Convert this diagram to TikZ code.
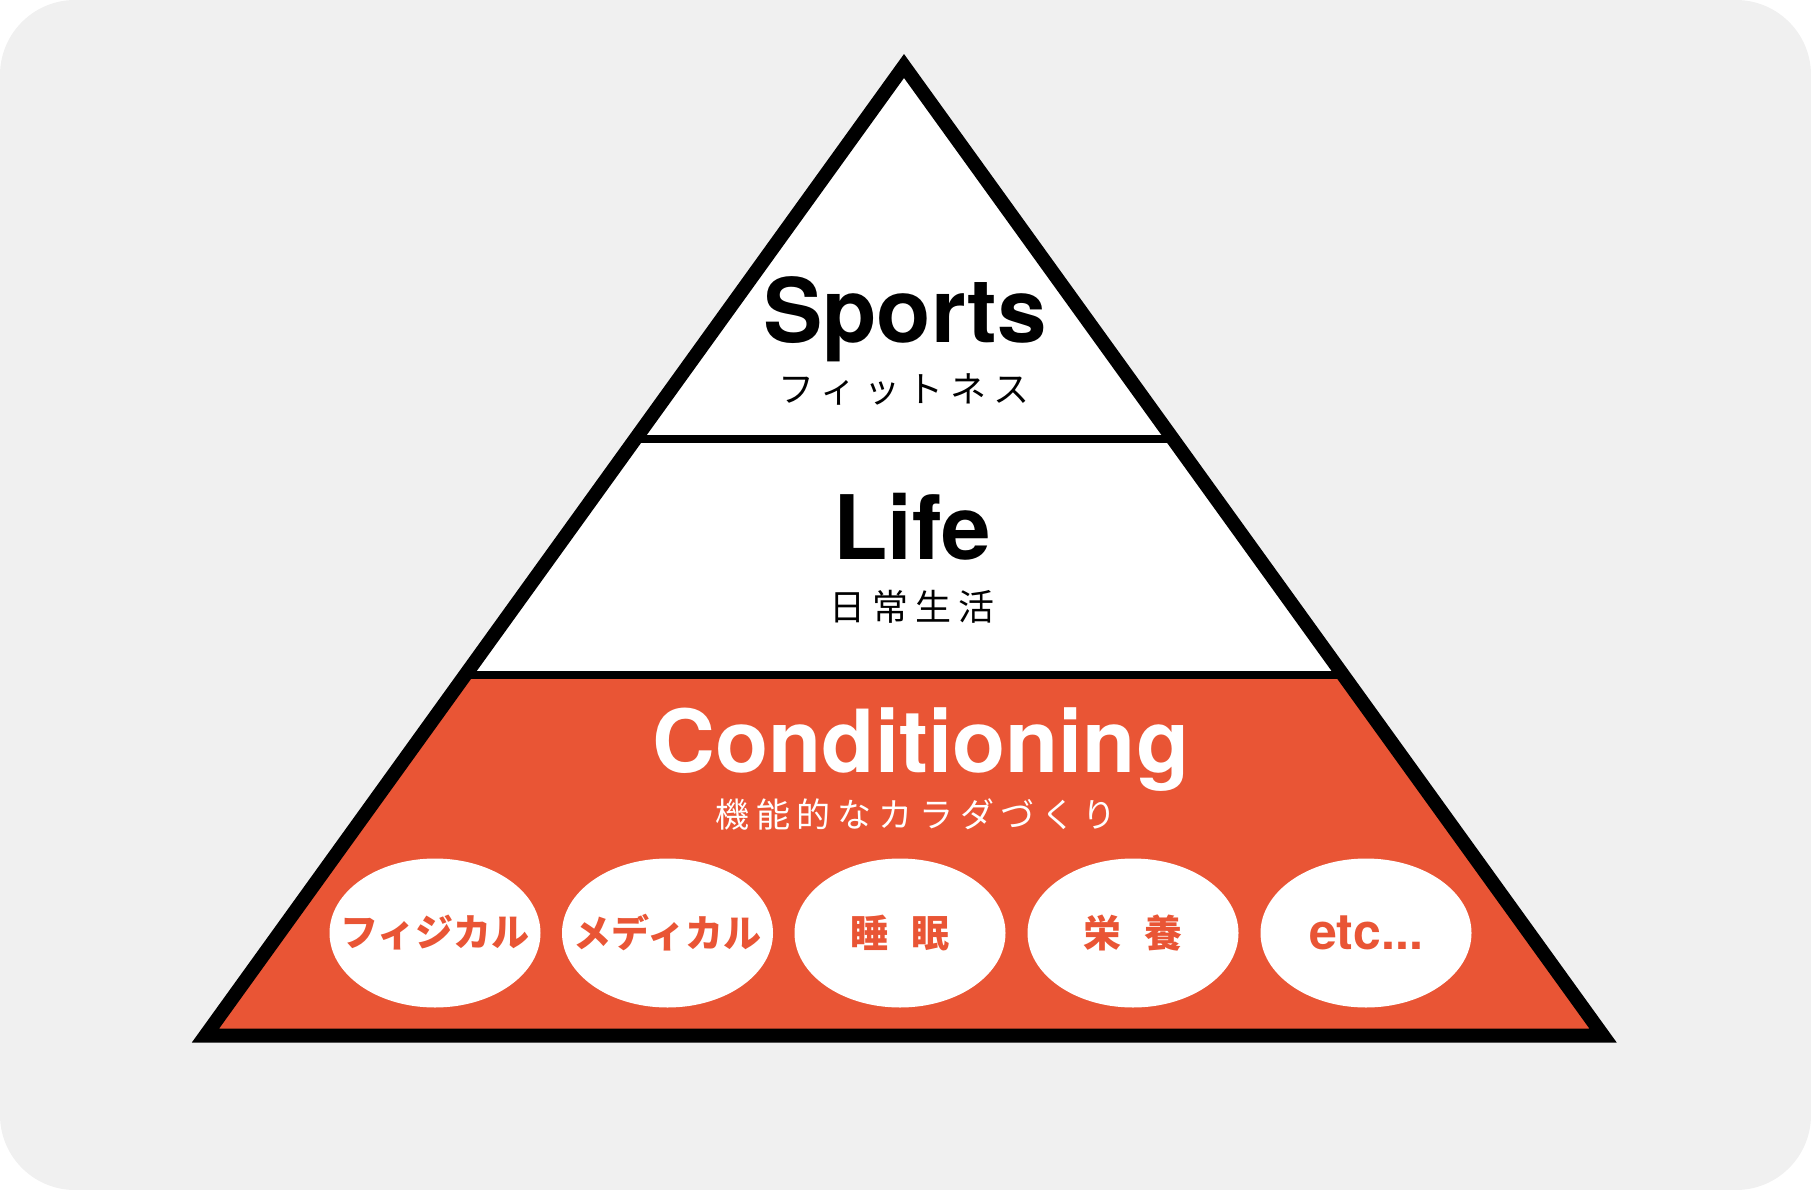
\documentclass[tikz,border=0pt]{standalone}
\usepackage{fontspec}
\setmainfont{TeX Gyre Heros}
\newfontfamily\jpfont{Noto Sans CJK JP}
\newfontfamily\jpspaced[LetterSpace=20]{Noto Sans CJK JP}
\usetikzlibrary{shapes.geometric,calc}
\definecolor{pyrorange}{HTML}{E95535}
\definecolor{bggray}{HTML}{F0F0F0}

\begin{document}
\begin{tikzpicture}[x=1pt,y=-1pt,
  title/.style={font=\fontsize{89}{89}\selectfont\bfseries, inner sep=0pt, anchor=base},
  subtitle/.style={font=\fontsize{36}{36}\selectfont\jpspaced, inner sep=0pt},
  pill/.style={shape=ellipse, fill=white, minimum width=211pt, minimum height=149pt,
    inner ysep=0pt, inner xsep=-25pt, text=pyrorange, font=\fontsize{38}{38}\selectfont\jpfont\bfseries}]
  \fill[bggray, rounded corners=75pt] (0,0) rectangle (1811,1190);
  \useasboundingbox (0,0) rectangle (1811,1190);

  \coordinate (top) at (904,66);
  \coordinate (bl) at (205.5,1035.5);
  \coordinate (br) at (1603,1035.5);
  \coordinate (d1l) at ($(top)!0.3847!(bl)$);
  \coordinate (d1r) at ($(top)!0.3847!(br)$);
  \coordinate (d2l) at ($(top)!0.6282!(bl)$);
  \coordinate (d2r) at ($(top)!0.6282!(br)$);

  \fill[white] (top) -- (bl) -- (br) -- cycle;
  \fill[pyrorange] (d2l) -- (d2r) -- (br) -- (bl) -- cycle;
  \draw[line width=8pt] (d1l) -- (d1r);
  \draw[line width=8pt] (d2l) -- (d2r);
  \draw[line width=14pt] (top) -- (bl) -- (br) -- cycle;

  \node[title] (sports) at (905,342) {Sports};
  \node[subtitle] (fitness) at (904,389) {フィットネス};
  \node[title] (life) at (912,559) {Life};
  \node[subtitle] (daily) at (912,607) {日常生活};
  \node[title, text=white, font=\fontsize{87}{87}\selectfont\bfseries] (cond) at (921,772) {Conditioning};
  \node[subtitle, text=white, font=\fontsize{34}{34}\selectfont\jpspaced] (body) at (916,815) {機能的なカラダづくり};

  \node[pill] (physical) at (435,933) {フィジカル};
  \node[pill] (medical) at (667.5,933) {メディカル};
  \node[pill] (sleep) at (900,933) {睡\hspace{24pt}眠};
  \node[pill] (food) at (1133,933) {栄\hspace{24pt}養};
  \node[pill, font=\fontsize{50}{50}\selectfont\bfseries] (etc) at (1366,933) {etc...};
\end{tikzpicture}
\end{document}
